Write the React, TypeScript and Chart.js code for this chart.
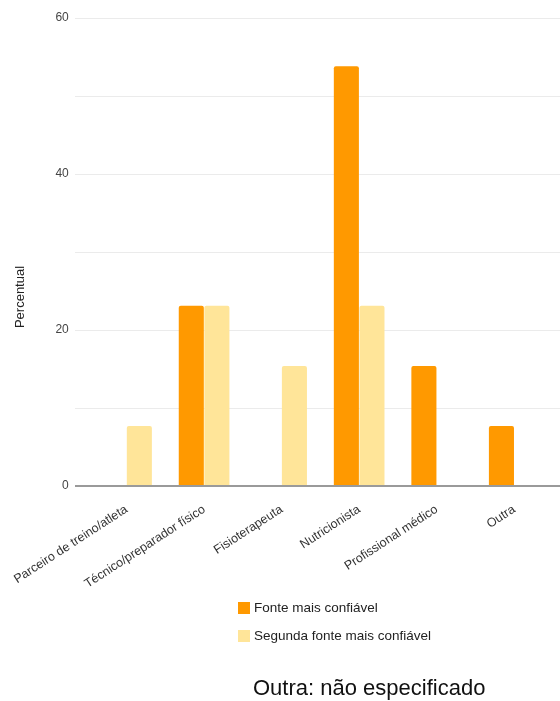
import React, { useEffect, useRef } from "react";
import { Chart, registerables } from "chart.js";

Chart.register(...registerables);

const categories = [
  "Parceiro de treino/atleta",
  "Técnico/preparador físico",
  "Fisioterapeuta",
  "Nutricionista",
  "Profissional médico",
  "Outra",
];
const mostTrusted = [0, 23.1, 0, 53.8, 15.4, 7.7];
const secondTrusted = [7.7, 23.1, 15.4, 23.1, 0, 0];
const seriesLabels = ["Fonte mais confiável", "Segunda fonte mais confiável"];
const yLabelTicks = [0, 20, 40, 60];
const yTitle = "Percentual";
const footnote = "Outra: não especificado";

const FONT = "'Liberation Sans', Arial, sans-serif";
const ORANGE = "#ff9900";
const LIGHT = "#ffe599";

// Horizontal gridlines that run a little past the plot edges, plus the zero baseline
const gridPlugin = {
  id: "wideGrid",
  beforeDatasetsDraw(chart: any) {
    const { ctx } = chart;
    const y = chart.scales.y;
    ctx.save();
    ctx.strokeStyle = "#ebebeb";
    ctx.lineWidth = 1;
    y.ticks.forEach((t: any) => {
      if (t.value === 0) return;
      const py = Math.round(y.getPixelForValue(t.value)) + 0.5;
      ctx.beginPath();
      ctx.moveTo(75, py);
      ctx.lineTo(chart.width, py);
      ctx.stroke();
    });
    ctx.restore();
  },
  afterDatasetsDraw(chart: any) {
    const { ctx } = chart;
    const y = chart.scales.y;
    const py = y.getPixelForValue(0);
    ctx.save();
    ctx.strokeStyle = "#9a9a9a";
    ctx.lineWidth = 2;
    ctx.beginPath();
    ctx.moveTo(75, py);
    ctx.lineTo(chart.width, py);
    ctx.stroke();
    ctx.restore();
  },
};

// Axis title, stacked legend and footnote
const decorPlugin = {
  id: "decor",
  afterDraw(chart: any) {
    const { ctx } = chart;
    ctx.save();
    // y title
    ctx.translate(20, 297);
    ctx.rotate(-Math.PI / 2);
    ctx.font = `13px ${FONT}`;
    ctx.fillStyle = "#222";
    ctx.textAlign = "center";
    ctx.textBaseline = "middle";
    ctx.fillText(yTitle, 0, 0);
    ctx.restore();

    // legend
    ctx.save();
    ctx.font = `13.5px ${FONT}`;
    ctx.textBaseline = "middle";
    ctx.textAlign = "left";
    chart.data.datasets.forEach((ds: any, i: number) => {
      const cy = 608 + i * 28;
      ctx.fillStyle = ds.backgroundColor;
      ctx.fillRect(238, cy - 6, 12, 12);
      ctx.fillStyle = "#222";
      ctx.fillText(ds.label, 254, cy);
    });
    ctx.restore();

    // footnote
    ctx.save();
    ctx.font = `22px ${FONT}`;
    ctx.fillStyle = "#111";
    ctx.textBaseline = "alphabetic";
    ctx.textAlign = "left";
    ctx.fillText(footnote, 253, 695);
    ctx.restore();
  },
};

export default function App() {
  const ref = useRef<HTMLCanvasElement | null>(null);

  useEffect(() => {
    if (!ref.current) return;
    const chart = new Chart(ref.current, {
      type: "bar",
      data: {
        labels: categories,
        datasets: [
          {
            label: seriesLabels[0],
            data: mostTrusted,
            backgroundColor: ORANGE,
            borderRadius: 2,
            borderSkipped: "start",
          },
          {
            label: seriesLabels[1],
            data: secondTrusted,
            backgroundColor: LIGHT,
            borderRadius: 2,
            borderSkipped: "start",
          },
        ],
      },
      options: {
        animation: false,
        responsive: false,
        layout: { padding: { left: 0, right: 7, top: 18, bottom: 0 } },
        datasets: {
          bar: { categoryPercentage: 0.66, barPercentage: 0.98 },
        },
        plugins: {
          legend: { display: false },
          tooltip: { enabled: false },
        },
        scales: {
          x: {
            grid: { display: false },
            border: { display: false },
            ticks: {
              autoSkip: false,
              minRotation: 33,
              maxRotation: 33,
              padding: 8,
              color: "#333",
              font: { family: FONT, size: 12.5 },
            },
            afterFit: (scale: any) => {
              scale.height = 215;
            },
          },
          y: {
            min: 0,
            max: 60,
            grid: { display: false, drawTicks: false },
            border: { display: false },
            ticks: {
              stepSize: 10,
              padding: 19,
              color: "#444",
              font: { family: FONT, size: 12 },
              callback: (v: any) => (yLabelTicks.includes(Number(v)) ? String(v) : ""),
            },
            afterFit: (scale: any) => {
              scale.width = 87;
              scale.paddingTop = 0;
              scale.paddingBottom = 0;
            },
          },
        },
      },
      plugins: [gridPlugin, decorPlugin],
    });
    return () => chart.destroy();
  }, []);

  return (
    <div style={{ position: "absolute", left: 0, top: 0, width: 560, height: 701, background: "#fff" }}>
      <canvas ref={ref} width={560} height={701} />
    </div>
  );
}
